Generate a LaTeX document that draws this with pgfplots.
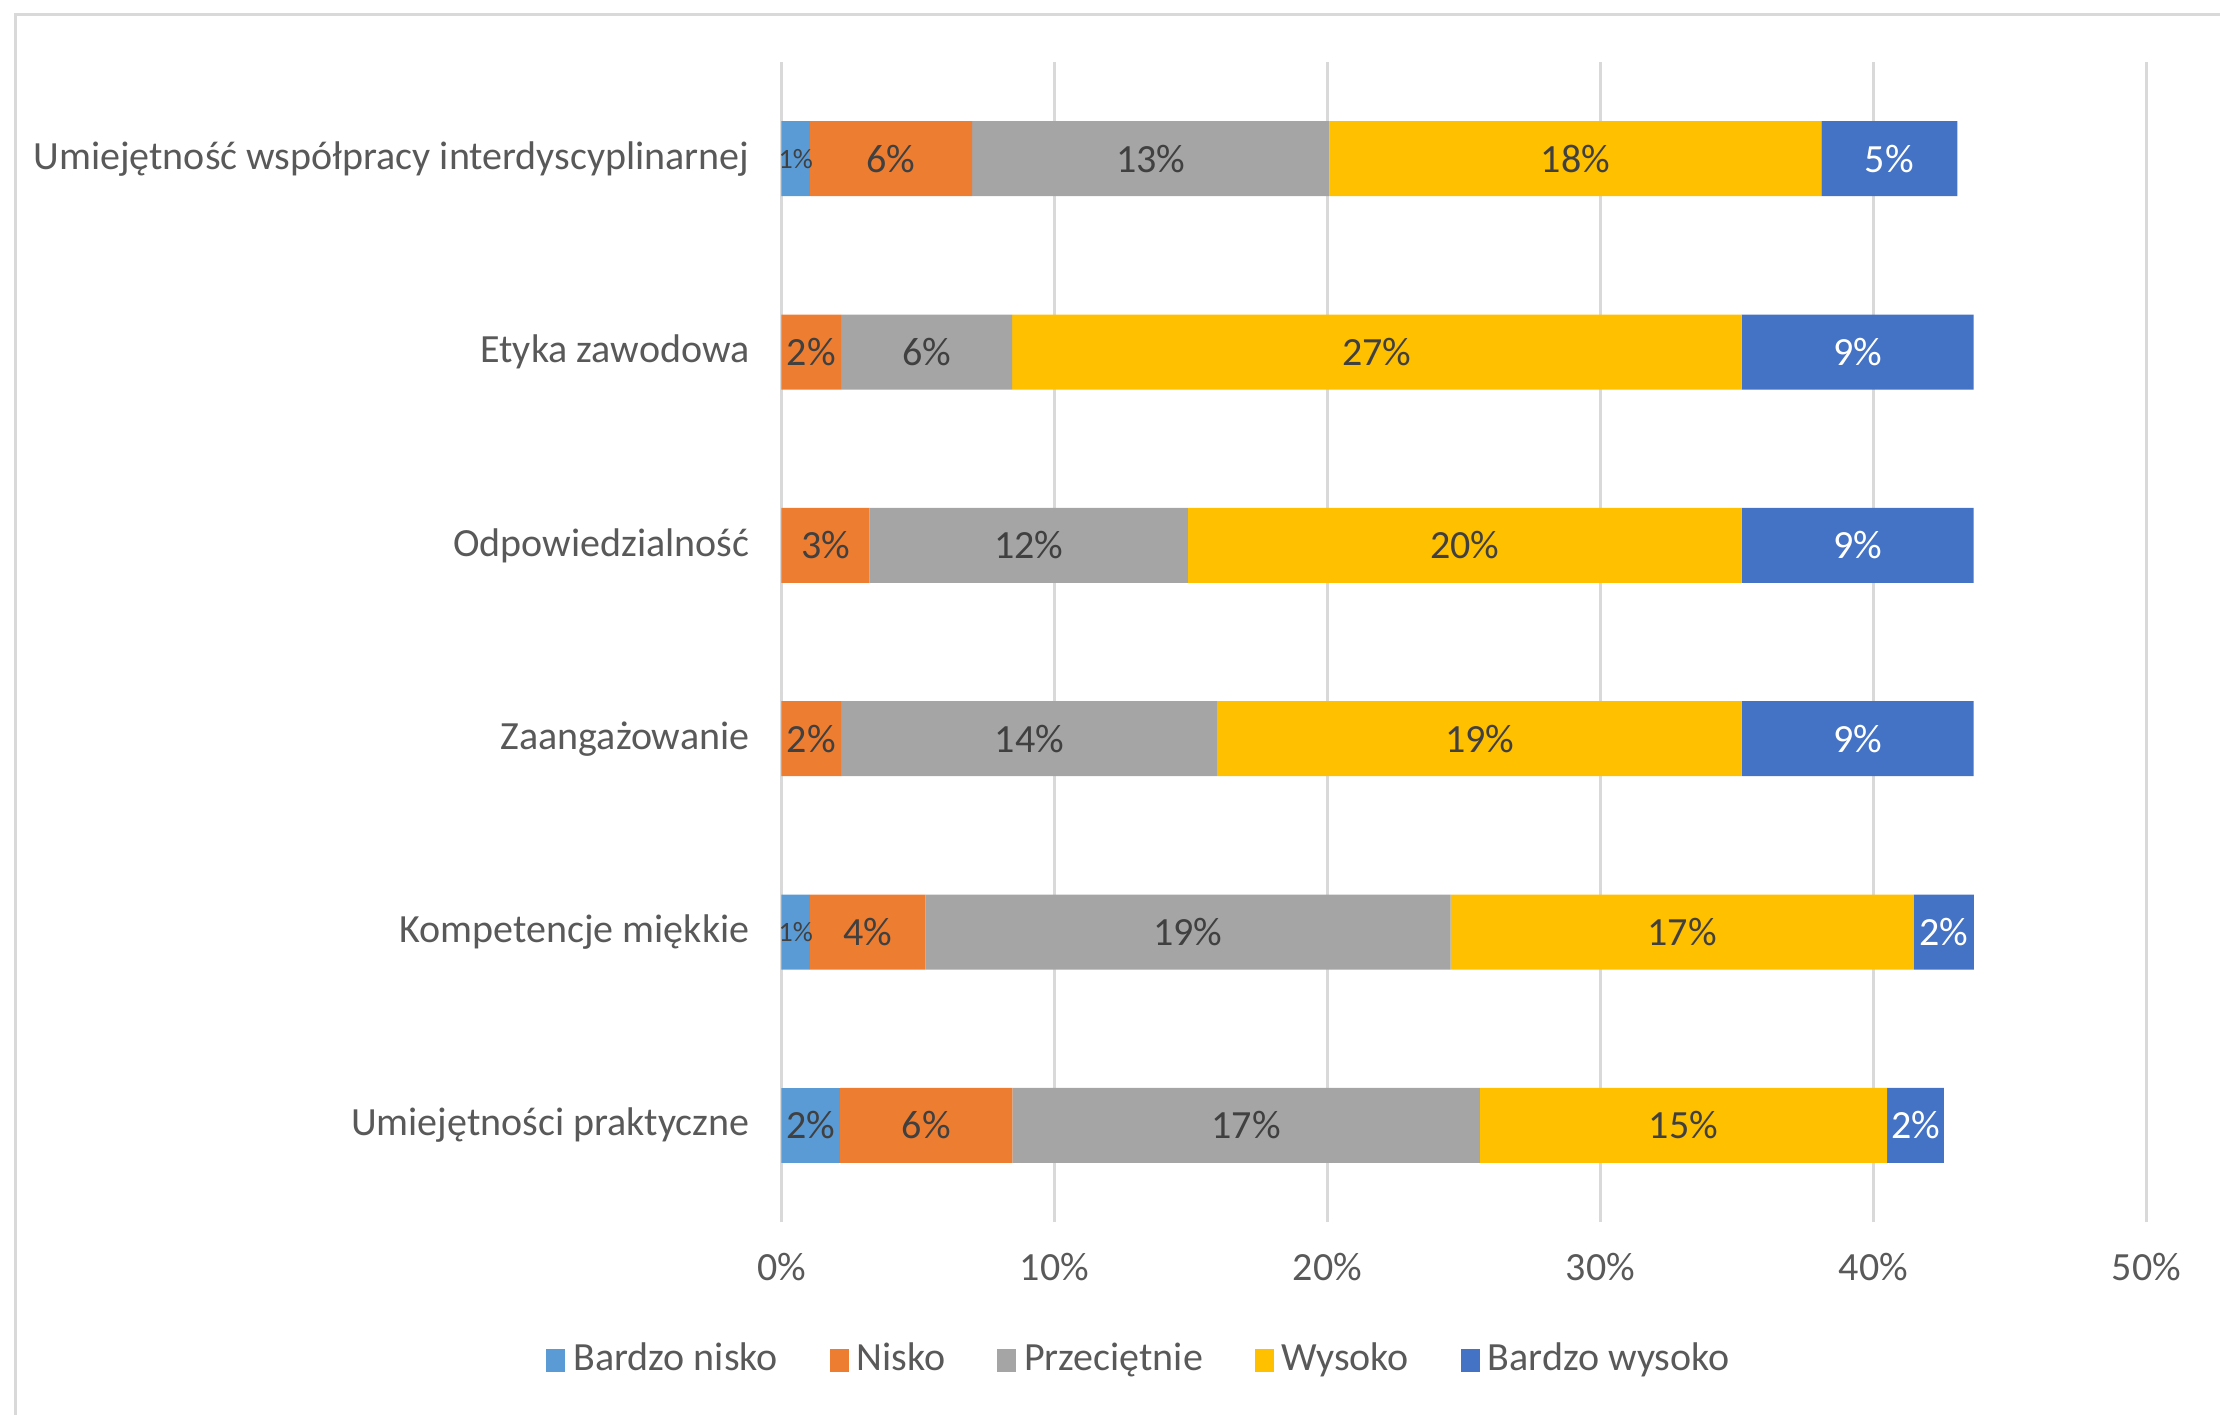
\documentclass[border=0pt]{standalone}
\usepackage{fontspec}
\setmainfont{Carlito}
\usepackage{pgfplots}
\pgfplotsset{compat=1.18}
\definecolor{bnisko}{HTML}{5B9BD5}
\definecolor{nisko}{HTML}{ED7D31}
\definecolor{przec}{HTML}{A5A5A5}
\definecolor{wysoko}{HTML}{FFC000}
\definecolor{bwysoko}{HTML}{4472C4}
\definecolor{txt}{HTML}{595959}
\definecolor{lbl}{HTML}{404040}
\definecolor{grd}{HTML}{D9D9D9}

\begin{document}
\begin{tikzpicture}
\useasboundingbox (0,0) rectangle (555pt,-353.75pt);
% chart frame (right and bottom edges fall outside the picture)
\draw[grd,line width=0.75pt] (3.75pt,-353.75pt) -- (3.75pt,-3.5pt) -- (555pt,-3.5pt);
\begin{axis}[
  at={(195.375pt,-305.5pt)}, anchor=south west,
  scale only axis, width=341.25pt, height=290pt,
  xbar stacked, bar width=18.75pt,
  xmin=0, xmax=50, ymin=0.5, ymax=6.5,
  xtick={0,10,...,50},
  xticklabels={0\%,10\%,20\%,30\%,40\%,50\%},
  ytick={1,...,6},
  yticklabels={Umiejętności praktyczne,Kompetencje miękkie,Zaangażowanie,Odpowiedzialność,Etyka zawodowa,Umiejętność współpracy interdyscyplinarnej},
  xmajorgrids, grid style={grd,line width=0.75pt},
  axis line style={draw=none}, major tick length=0pt,
  tick label style={font=\fontsize{10}{12}\selectfont, text=txt},
  xticklabel style={yshift=-4.25pt},
  yticklabel style={xshift=-4.5pt},
  point meta=explicit symbolic,
  nodes near coords={\pgfplotspointmeta},
  every node near coord/.append style={font=\fontsize{10}{12}\selectfont, text=lbl,
    anchor=center},
  legend columns=5,
  legend cell align=left,
  legend style={at={(0.2641,-0.119)}, anchor=center, draw=none, fill=none,
    font=\fontsize{10}{12}\selectfont, text=txt,
    /tikz/every even column/.append style={column sep=11pt}},
  legend image code/.code={\fill[#1] (0pt,-2.875pt) rectangle (4.75pt,2.875pt);},
]
\addplot[fill=bnisko, draw=none] coordinates {
  (2.14,1) [2\%] (0,2) [] (0,3) [] (0,4) [] (0,5) [] (0,6) []
};
\addlegendentry{Bardzo nisko}
% the 1% segments of the same series, labelled in a smaller size
\addplot[fill=bnisko, draw=none, forget plot,
  every node near coord/.append style={font=\fontsize{7}{8}\selectfont}] coordinates {
  (0,1) [] (1.04,2) [1\%] (0,3) [] (0,4) [] (0,5) [] (1.04,6) [1\%]
};
\addplot[fill=nisko, draw=none] coordinates {
  (6.32,1) [6\%] (4.23,2) [4\%] (2.18,3) [2\%] (3.22,4) [3\%] (2.18,5) [2\%] (5.94,6) [6\%]
};
\addlegendentry{Nisko}
\addplot[fill=przec, draw=none] coordinates {
  (17.12,1) [17\%] (19.24,2) [19\%] (13.8,3) [14\%] (11.67,4) [12\%] (6.27,5) [6\%] (13.09,6) [13\%]
};
\addlegendentry{Przeciętnie}
\addplot[fill=wysoko, draw=none] coordinates {
  (14.92,1) [15\%] (16.97,2) [17\%] (19.19,3) [19\%] (20.28,4) [20\%] (26.72,5) [27\%] (18.02,6) [18\%]
};
\addlegendentry{Wysoko}
\addplot[fill=bwysoko, draw=none, every node near coord/.append style={text=white}] coordinates {
  (2.08,1) [2\%] (2.2,2) [2\%] (8.5,3) [9\%] (8.5,4) [9\%] (8.5,5) [9\%] (4.98,6) [5\%]
};
\addlegendentry{Bardzo wysoko}
\end{axis}
\end{tikzpicture}
\end{document}
